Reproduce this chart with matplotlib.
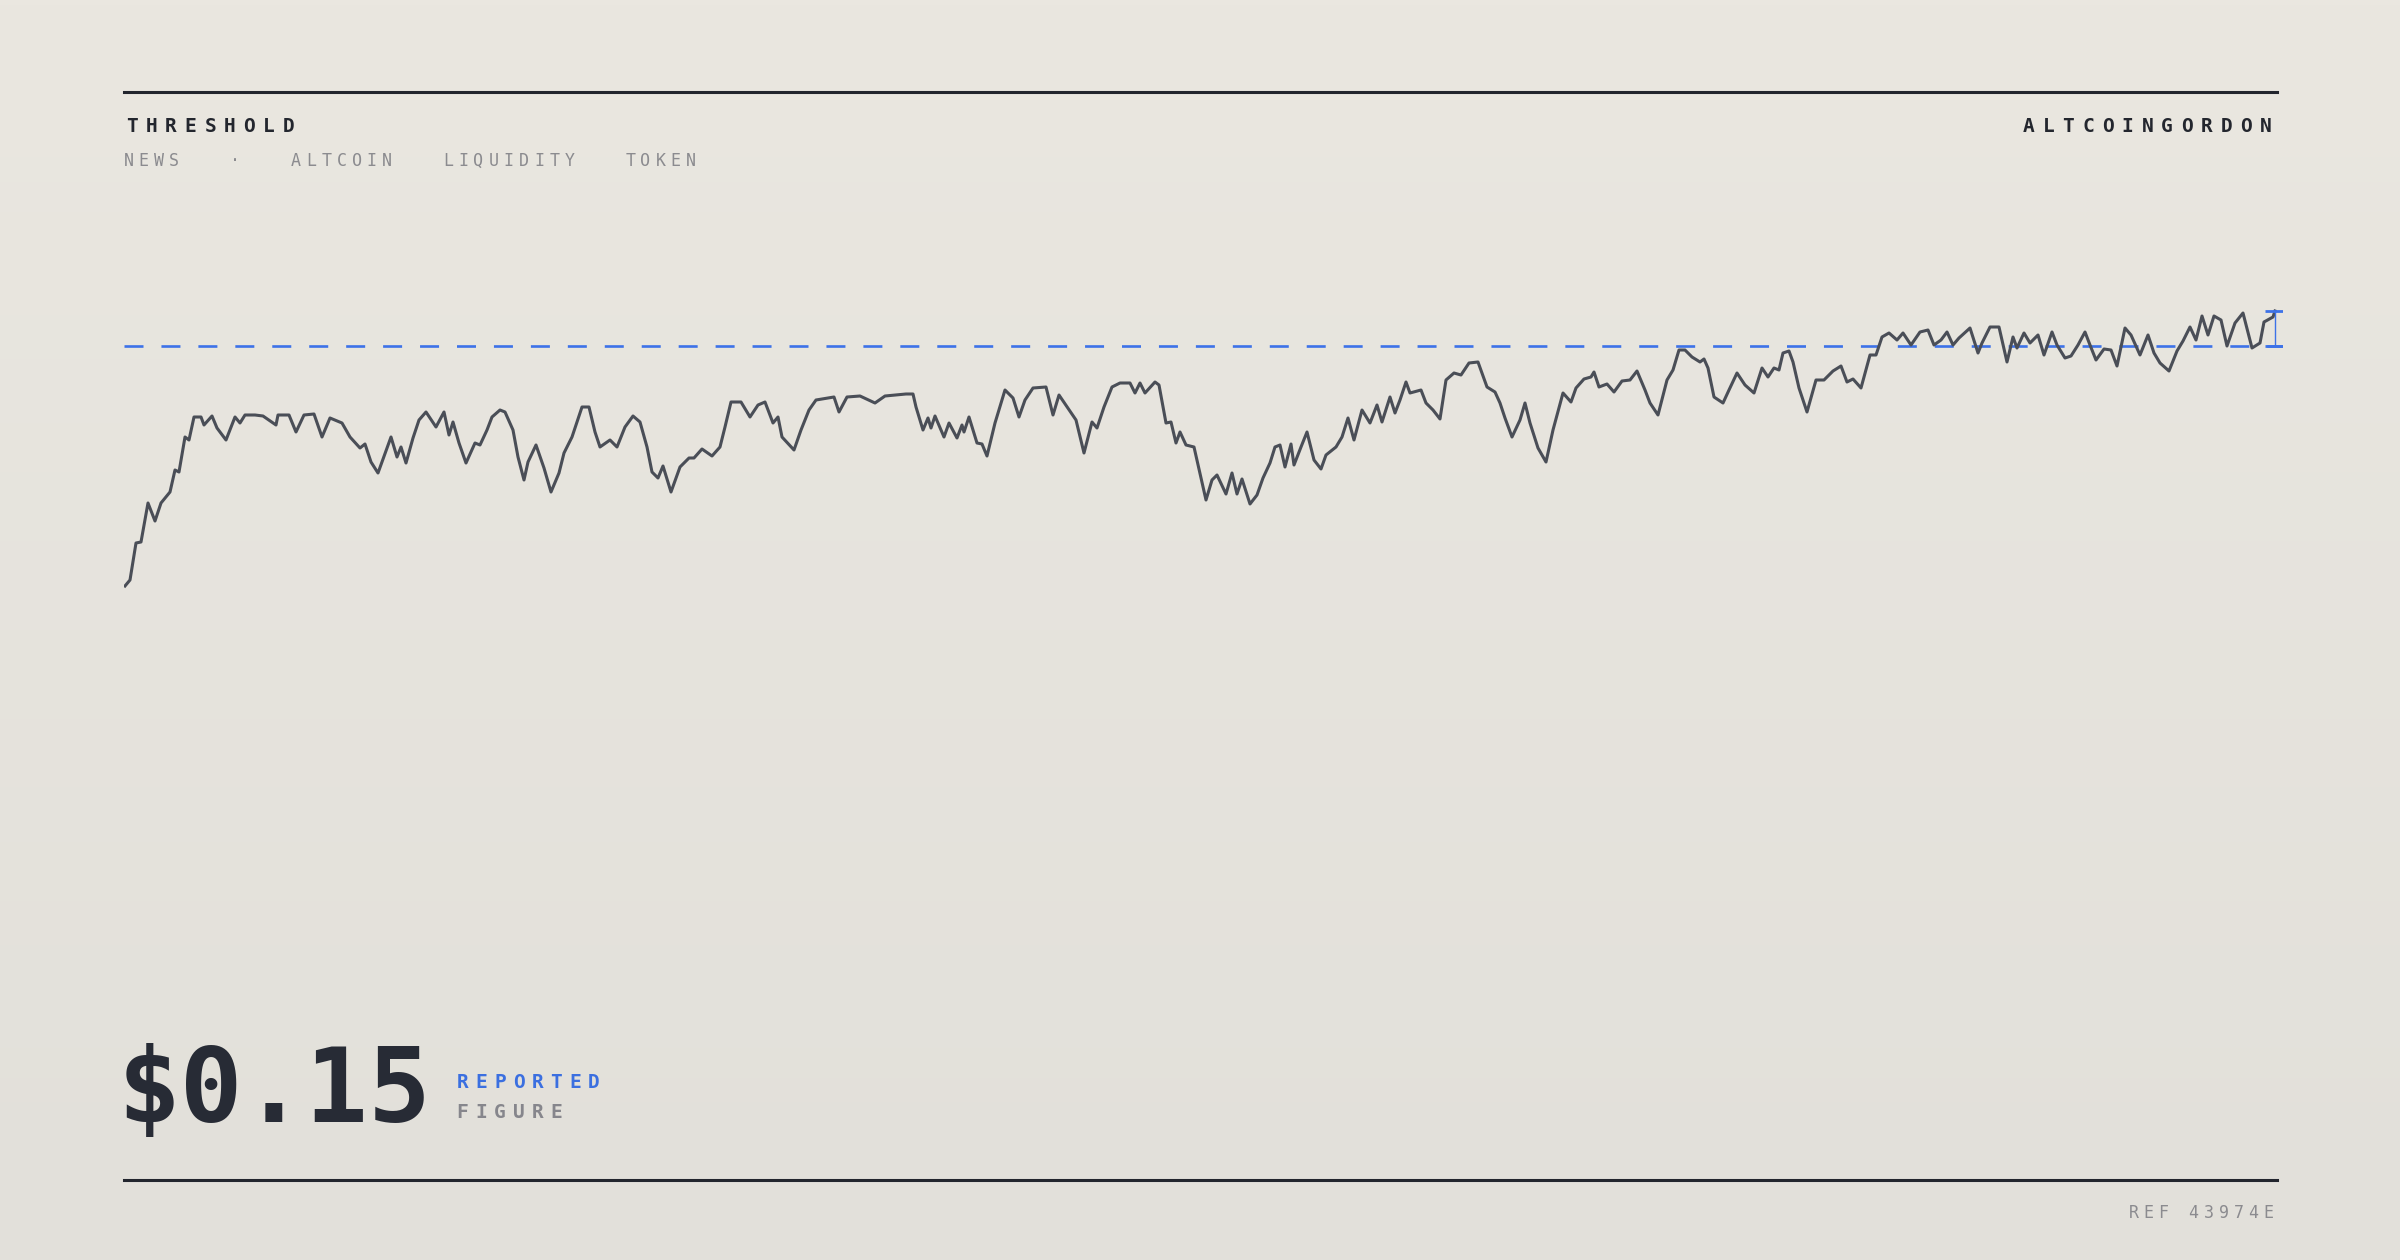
import numpy as np
import matplotlib
matplotlib.use("Agg")
import matplotlib.pyplot as plt

# ---- data ----
days = [1,6,12,17,24,31,37,46,51,55,61,65,70,77,80,88,93,102,111,116,121,131,139,152,154,165,172,180,190,198,
        206,218,226,236,241,247,254,267,273,277,282,289,295,302,312,320,325,329,335,342,351,356,363,368,376,381,389,394,400,404,
        412,420,427,435,440,448,453,458,465,471,476,486,493,501,509,516,523,528,534,539,547,556,565,570,578,588,596,601,607,617,
        626,634,641,649,654,658,670,677,685,692,710,715,723,736,751,761,782,
        789,792,799,804,807,811,820,825,833,838,840,845,853,858,863,871,881,889,895,901,909,922,929,935,952,960,968,973,980,988,
        996,1006,1011,1016,1021,1031,1035,1042,1047,1052,1056,1062,1070,1082,1088,1093,1102,1108,1113,1118,1126,1133,1139,1146,1151,1156,1161,1167,1170,1177,
        1183,1190,1197,1202,1212,1218,1224,1230,1238,1246,1253,1258,1266,1271,1276,1282,1286,1297,1302,1309,1316,1322,1330,1337,1345,1354,1363,1371,1376,1381,
        1388,1396,1401,1406,1414,1422,1429,1439,1447,1452,1460,1467,1470,1475,1483,1490,1498,1506,1513,1521,
        1526,1534,1543,1549,1555,1561,1568,1576,1580,1584,1590,1599,1605,1613,1621,1630,1638,1644,1650,1655,1659,1665,1669,1675,1683,1692,1700,1709,1717,1723,
        1729,1737,1746,1752,1758,1765,1773,1779,1787,1796,1804,1810,1817,1823,1829,1835,1846,1854,1858,1866,1875,1883,1889,1893,1900,1906,1914,1920,1928,1933,
        1941,1947,1954,1961,1966,1972,1980,1987,1993,2001,2007,2016,2024,2030,2036,2045,2053,2059,2066,2072,2078,2084,2090,2097,2103,2111,2119,2128,2136,2140,
        2149,2151]
prices = [0.1020,0.1032,0.1106,0.1108,0.1186,0.1150,0.1186,0.1208,0.1252,0.1248,0.1318,0.1312,0.1358,0.1358,0.1342,0.1360,0.1336,0.1312,0.1358,0.1346,
          0.1362,0.1362,0.1360,0.1342,0.1362,0.1362,0.1328,0.1362,0.1364,0.1318,0.1356,0.1346,0.1318,0.1296,0.1304,0.1268,0.1246,0.1318,0.1278,0.1298,
          0.1266,0.1316,0.1352,0.1368,0.1338,0.1368,0.1322,0.1348,0.1306,0.1266,0.1306,0.1302,0.1332,0.1358,0.1372,0.1368,0.1332,0.1278,0.1232,0.1268,
          0.1302,0.1256,0.1208,0.1246,0.1286,0.1318,0.1348,0.1378,0.1378,0.1328,0.1298,0.1312,0.1298,0.1338,0.1360,0.1348,0.1298,0.1248,0.1236,0.1260,
          0.1208,0.1258,0.1276,0.1276,0.1294,0.1280,0.1298,0.1338,0.1388,0.1388,0.1358,0.1382,0.1388,0.1346,0.1358,0.1318,0.1292,0.1332,0.1372,0.1392,
          0.1398,0.1368,0.1398,0.1400,0.1386,0.1400,0.1404,
          0.1404,0.1378,0.1332,0.1356,0.1336,0.1360,0.1318,0.1346,0.1316,0.1342,0.1328,0.1358,0.1306,0.1304,0.1280,0.1346,0.1412,0.1396,0.1358,0.1392,
          0.1416,0.1418,0.1362,0.1402,0.1352,0.1286,0.1348,0.1336,0.1378,0.1418,0.1426,0.1426,0.1406,0.1426,0.1406,0.1428,0.1422,0.1346,0.1348,0.1306,
          0.1328,0.1302,0.1298,0.1192,0.1232,0.1242,0.1204,0.1246,0.1204,0.1234,0.1184,0.1202,0.1236,0.1266,0.1298,0.1302,0.1258,0.1304,0.1262,0.1298,
          0.1328,0.1272,0.1254,0.1282,0.1298,0.1318,0.1356,0.1312,0.1372,0.1346,0.1382,0.1348,0.1398,0.1366,0.1392,0.1428,0.1406,0.1412,0.1386,0.1372,
          0.1354,0.1432,0.1446,0.1442,0.1466,0.1468,0.1418,0.1408,0.1386,0.1356,0.1318,0.1352,0.1386,0.1346,0.1296,0.1268,0.1332,0.1406,0.1388,0.1416,
          0.1434,0.1438,0.1448,0.1418,0.1424,0.1408,0.1430,0.1432,0.1450,0.1412,
          0.1386,0.1362,0.1432,0.1452,0.1492,0.1492,0.1478,0.1468,0.1474,0.1456,0.1398,0.1386,0.1412,0.1446,0.1422,0.1406,0.1456,0.1438,0.1456,0.1452,
          0.1486,0.1490,0.1468,0.1416,0.1368,0.1432,0.1432,0.1450,0.1460,0.1428,0.1434,0.1416,0.1482,0.1482,0.1518,0.1526,0.1512,0.1526,0.1502,0.1528,
          0.1532,0.1502,0.1512,0.1528,0.1502,0.1516,0.1536,0.1486,0.1506,0.1538,0.1538,0.1468,0.1518,0.1496,0.1526,0.1506,0.1522,0.1482,0.1528,0.1502,
          0.1476,0.1480,0.1502,0.1528,0.1502,0.1472,0.1494,0.1492,0.1460,0.1536,0.1522,0.1482,0.1522,0.1486,0.1466,0.1450,0.1490,0.1510,0.1538,0.1512,
          0.1560,0.1522,0.1560,0.1552,0.1500,0.1546,0.1566,0.1496,0.1506,0.1548,0.1558,0.1570]
threshold = 0.15
title = "THRESHOLD"
brand = "ALTCOINGORDON"
subtitle = "NEWS   \u00b7   ALTCOIN   LIQUIDITY   TOKEN"
big_value = "$0.15"
label1 = "REPORTED"
label2 = "FIGURE"
ref = "REF 43974E"

W, H = 2400, 1260
fig = plt.figure(figsize=(24, 12.6), dpi=100)

# background gradient
bg = fig.add_axes([0, 0, 1, 1], zorder=-10)
top = np.array([234, 231, 224]) / 255
bot = np.array([226, 224, 218]) / 255
g = np.linspace(0, 1, 256)[:, None, None]
img = top * (1 - g) + bot * g
bg.imshow(np.repeat(img, 2, axis=1), aspect="auto", extent=[0, 1, 0, 1])
bg.axis("off")

def fx(px): return px / W
def fy(py): return 1 - py / H

# rules
for yy in (92, 1180):
    fig.add_artist(plt.Line2D([fx(124), fx(2277)], [fy(yy), fy(yy)], color="#22252d", lw=2.2))

def spaced(s, x, y, pitch, right=False, **kw):
    n = len(s)
    x0 = x - n * pitch if right else x
    for i, ch in enumerate(s):
        if ch != " ":
            fig.text(fx(x0 + (i + 0.5) * pitch), fy(y), ch, ha="center", va="center",
                     family="DejaVu Sans Mono", **kw)

spaced(title, 122, 127, 19.6, fontsize=14, weight="bold", color="#23262e")
spaced(brand, 2276, 127, 19.8, right=True, fontsize=14, weight="bold", color="#23262e")
spaced(subtitle, 121, 161, 15.2, fontsize=12, color="#8b8b8f")
spaced(label1, 453, 1083, 18.8, fontsize=14, weight="bold", color="#3b6fe0")
spaced(label2, 453, 1113, 18.8, fontsize=14, weight="bold", color="#86868c")
spaced(ref, 2276, 1213, 15.0, right=True, fontsize=12, color="#8b8b8f")

fig.text(fx(118), fy(1122), big_value, ha="left", va="baseline", family="DejaVu Sans Mono",
         weight="bold", fontsize=75, color="#272b35")

# chart
ax = fig.add_axes([fx(124), fy(1000), fx(2283) - fx(124), (1000 - 180) / H])
ax.set_facecolor("none")
ax.set_xlim(0, 2159)
ax.set_ylim(0.15 - 654 / 5000, 0.15 + 166 / 5000)
ax.axis("off")
ax.axhline(threshold, color="#3d72e8", lw=1.9, linestyle=(0, (7.2, 6.8)))
ax.plot(days, prices, color="#4a4e57", lw=2.2, solid_joinstyle="round")
ax.vlines(days[-1], threshold, prices[-1], color="#3d72e8", lw=1.0)
ax.hlines([threshold, prices[-1]], days[-1] - 10, days[-1] + 10, color="#3d72e8", lw=2.0)

fig.savefig("out.png", dpi=100)
